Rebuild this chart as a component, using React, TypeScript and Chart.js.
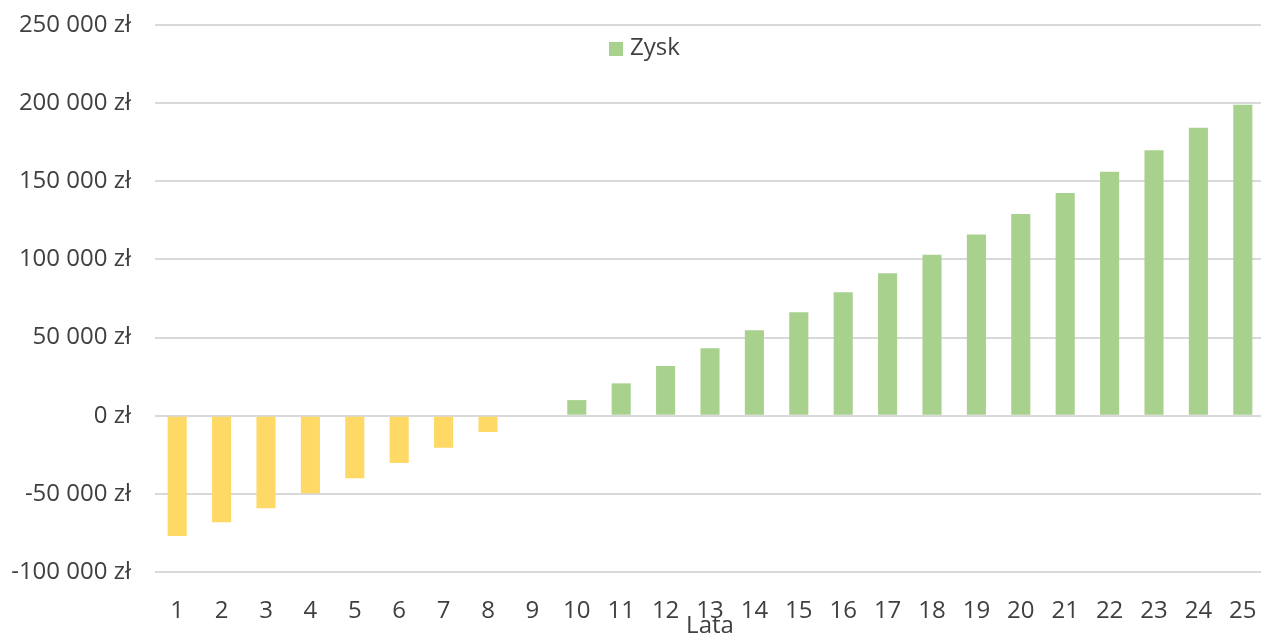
import React, { useEffect, useRef } from "react";
import { Chart, registerables } from "chart.js";

Chart.register(...registerables);

const years = ["1","2","3","4","5","6","7","8","9","10","11","12","13","14","15","16","17","18","19","20","21","22","23","24","25"];
const profit = [-77000, -68200, -59200, -49600, -40000, -30200, -20500, -10400, 0, 10000, 20700, 31800, 43100, 54700, 66200, 79000, 91200, 103000, 115900, 129100, 142500, 156100, 169800, 184300, 198900];
const seriesLabel = "Zysk";
const xTitle = "Lata";
const yTicks = { min: -100000, max: 250000, step: 50000 };

const GREEN = "#A9D18E";
const YELLOW = "#FFD966";
const TEXT = "#404040";
const FONT = "'Open Sans', sans-serif";

function fmt(v: number): string {
  const s = Math.abs(v).toString().replace(/\B(?=(\d{3})+(?!\d))/g, " ");
  return (v < 0 ? "-" : "") + s + " zł";
}

const overlayPlugin = {
  id: "overlay",
  afterDraw(chart: any) {
    const ctx = chart.ctx;
    const area = chart.chartArea;
    ctx.save();
    // legend
    ctx.fillStyle = GREEN;
    ctx.fillRect(609, 42, 14, 14);
    ctx.fillStyle = TEXT;
    ctx.font = `24px ${FONT}`;
    ctx.textAlign = "left";
    ctx.textBaseline = "middle";
    ctx.fillText(seriesLabel, 630, 48);
    // x axis title
    ctx.textAlign = "center";
    ctx.textBaseline = "alphabetic";
    ctx.fillText(xTitle, (area.left + area.right) / 2, 633);
    ctx.restore();
  },
};

export default function App() {
  const ref = useRef<HTMLCanvasElement>(null);
  useEffect(() => {
    if (!ref.current) return;
    const chart = new Chart(ref.current, {
      type: "bar",
      data: {
        labels: years,
        datasets: [
          {
            label: seriesLabel,
            data: profit,
            backgroundColor: profit.map((v) => (v < 0 ? YELLOW : GREEN)),
            barPercentage: 0.43,
            categoryPercentage: 1,
          },
        ],
      },
      options: {
        responsive: false,
        animation: false,
        devicePixelRatio: 1,
        layout: { padding: { top: 25, left: 0, right: 0, bottom: 0 } },
        plugins: {
          legend: { display: false },
          tooltip: { enabled: false },
        },
        scales: {
          x: {
            grid: { display: false },
            border: { display: false },
            ticks: {
              color: TEXT,
              font: { family: FONT, size: 24 },
              padding: 17,
              maxRotation: 0,
              autoSkip: false,
            },
            afterFit: (s: any) => {
              s.height = 64;
              s.paddingLeft = 0;
              s.paddingRight = 0;
            },
          },
          y: {
            min: yTicks.min,
            max: yTicks.max,
            border: { display: false },
            grid: { color: "#d9d9d9", lineWidth: 2, drawTicks: false },
            ticks: {
              stepSize: yTicks.step,
              color: TEXT,
              font: { family: FONT, size: 24 },
              padding: 24,
              callback: (v: any) => fmt(Number(v)),
            },
            afterFit: (s: any) => {
              s.width = 155;
              s.paddingTop = 0;
              s.paddingBottom = 0;
            },
          },
        },
      },
      plugins: [overlayPlugin],
    });
    return () => chart.destroy();
  }, []);
  return (
    <div style={{ position: "fixed", left: 0, top: 0, width: 1261, height: 636, overflow: "hidden", background: "#fff" }}>
      <canvas ref={ref} width={1265} height={636} style={{ width: 1265, height: 636, display: "block" }} />
    </div>
  );
}
